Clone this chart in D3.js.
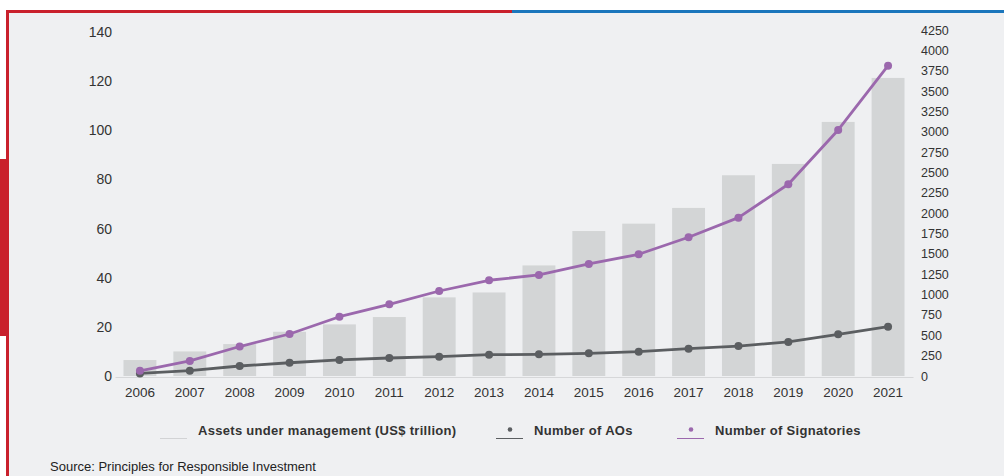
<!DOCTYPE html>
<html>
<head>
<meta charset="utf-8">
<script src="https://cdn.jsdelivr.net/npm/d3@7"></script>
<style>
  html, body { margin: 0; padding: 0; background: #fff; }
  svg { display: block; font-family: "Liberation Sans", Arial, sans-serif; }
</style>
</head>
<body>
<div id="chart"></div>
<script>
// data
const years = ["2006","2007","2008","2009","2010","2011","2012","2013","2014","2015","2016","2017","2018","2019","2020","2021"];
const assets = [6.5, 10, 13, 18, 21, 24, 32, 34, 45, 59, 62, 68.4, 81.7, 86.3, 103.4, 121.3];
const aos = [32, 65, 123, 163, 197, 221, 237, 262, 266, 279, 299, 336, 368, 418, 512, 606];
const signatories = [63, 185, 362, 516, 728, 880, 1044, 1176, 1241, 1376, 1495, 1704, 1945, 2355, 3022, 3812];
const leftTicks = [0, 20, 40, 60, 80, 100, 120, 140];
const rightTicks = d3.range(0, 4251, 250);

const width = 1004, height = 476;
const purple = "#9b68ad", darkGray = "#5b5e61", barGray = "#d3d5d6";

const svg = d3.select("#chart").append("svg")
    .attr("width", width)
    .attr("height", height);

// frame: panel, red/blue top rule, red left rule and tab
svg.append("rect").attr("x", 8).attr("y", 11).attr("width", width - 8).attr("height", height - 11).attr("fill", "#eff0f2");
svg.append("rect").attr("x", 6).attr("y", 10).attr("width", 506).attr("height", 3).attr("fill", "#c9202c");
svg.append("rect").attr("x", 512).attr("y", 10).attr("width", width - 512).attr("height", 3).attr("fill", "#1b76bc");
svg.append("rect").attr("x", 6).attr("y", 10).attr("width", 3).attr("height", height - 10).attr("fill", "#c9202c");
svg.append("rect").attr("x", 0).attr("y", 159).attr("width", 9).attr("height", 177).attr("fill", "#c9202c");

// scales
const x = d3.scaleBand().domain(years).range([115, 913]).paddingInner(0.34).paddingOuter(0.17);
const yL = d3.scaleLinear().domain([0, 140]).range([376, 32]);
const yR = d3.scaleLinear().domain([0, 4250]).range([376, 30]);

// bars
svg.append("g").selectAll("rect")
  .data(assets)
  .join("rect")
    .attr("x", (d, i) => x(years[i]))
    .attr("y", d => yL(d))
    .attr("width", x.bandwidth())
    .attr("height", d => yL(0) - yL(d))
    .attr("fill", barGray);

// axes
const leftAxis = svg.append("g")
    .attr("transform", "translate(115,0)")
    .call(d3.axisLeft(yL).tickValues(leftTicks).tickSize(0).tickPadding(3));
leftAxis.select(".domain").remove();
leftAxis.selectAll("text").attr("font-size", 14).attr("fill", "#333")
    .attr("font-family", "Liberation Sans, Arial, sans-serif");

const rightAxis = svg.append("g")
    .attr("transform", "translate(915,0)")
    .call(d3.axisRight(yR).tickValues(rightTicks).tickFormat(d3.format("d")).tickSize(0).tickPadding(6));
rightAxis.select(".domain").remove();
rightAxis.selectAll("text").attr("font-size", 12.5).attr("fill", "#333")
    .attr("font-family", "Liberation Sans, Arial, sans-serif");

const bottomAxis = svg.append("g")
    .attr("transform", "translate(0,377)")
    .call(d3.axisBottom(x).tickSize(0).tickSizeOuter(0).tickPadding(10));
bottomAxis.select(".domain").attr("stroke", "#d6d7d9");
bottomAxis.selectAll("text").attr("font-size", 13.5).attr("fill", "#333")
    .attr("font-family", "Liberation Sans, Arial, sans-serif");

// lines
const cx = (d, i) => x(years[i]) + x.bandwidth() / 2;

function drawSeries(values, color) {
  const line = d3.line().x(cx).y(d => yR(d));
  svg.append("path")
    .datum(values)
    .attr("d", line)
    .attr("fill", "none")
    .attr("stroke", color)
    .attr("stroke-width", 2.8)
    .attr("stroke-linejoin", "round");
  svg.append("g").selectAll("circle")
    .data(values)
    .join("circle")
      .attr("cx", cx)
      .attr("cy", d => yR(d))
      .attr("r", 4)
      .attr("fill", color);
}
drawSeries(aos, darkGray);
drawSeries(signatories, purple);

// legend
const legend = svg.append("g")
    .attr("font-size", 13)
    .attr("font-weight", "bold")
    .attr("letter-spacing", 0.3)
    .attr("fill", "#333");

const items = [
  { label: "Assets under management (US$ trillion)", color: "#d2d3d5", dot: false, x: 160 },
  { label: "Number of AOs", color: darkGray, dot: true, x: 496 },
  { label: "Number of Signatories", color: purple, dot: true, x: 677 }
];
items.forEach(it => {
  legend.append("line")
    .attr("x1", it.x).attr("x2", it.x + 27)
    .attr("y1", 438.5).attr("y2", 438.5)
    .attr("stroke", it.color).attr("stroke-width", 1);
  if (it.dot) {
    legend.append("circle").attr("cx", it.x + 14).attr("cy", 429.5).attr("r", 2.3).attr("fill", it.color);
  }
  legend.append("text")
    .attr("x", it.x + 38).attr("y", 434.5)
    .text(it.label);
});

// source (kept fully inside the frame)
svg.append("text")
    .attr("x", 50).attr("y", 471)
    .attr("font-size", 13)
    .attr("fill", "#222")
    .text("Source: Principles for Responsible Investment");
</script>
</body>
</html>
